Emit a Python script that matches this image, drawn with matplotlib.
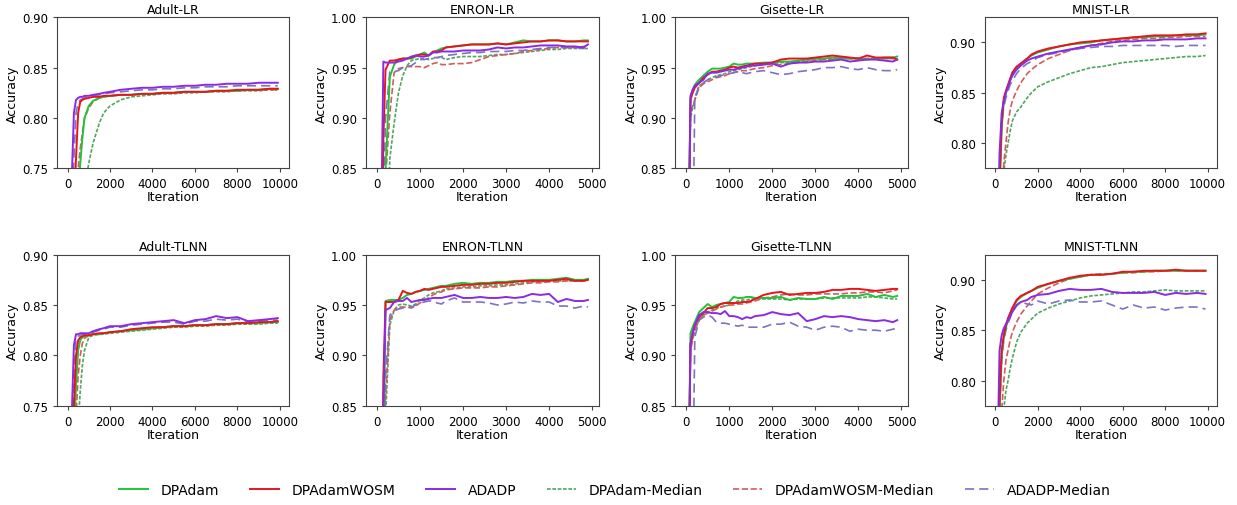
import matplotlib
matplotlib.use("Agg")
import matplotlib.pyplot as plt

# iteration grids (x values)
x_long = [0, 100, 200, 300, 400, 500, 600, 700, 800, 1000, 1200, 1500, 1700, 2000, 2500,
          3000, 3500, 4000, 4500, 5000, 5500, 6000, 6500, 7000, 7500, 8000, 8500, 9000, 9500, 9900]
x_short = [0, 100, 150, 200, 300, 400, 500, 600, 700, 800, 900, 1000, 1100, 1200, 1300, 1400,
           1500, 1600, 1800, 2000, 2200, 2400, 2600, 2800, 3000, 3200, 3400, 3600, 3800, 4000,
           4200, 4400, 4600, 4800, 4900]

methods = ["DPAdam", "DPAdamWOSM", "ADADP", "DPAdam-Median", "DPAdamWOSM-Median", "ADADP-Median"]

# ---- Adult-LR ----
adult_lr_dpadam = [0.55, 0.58, 0.62, 0.66, 0.70, 0.73, 0.755, 0.78, 0.80, 0.812, 0.817, 0.820, 0.821, 0.822, 0.823,
                   0.823, 0.824, 0.824, 0.825, 0.825, 0.826, 0.826, 0.826, 0.827, 0.827, 0.827, 0.828, 0.828, 0.829, 0.829]
adult_lr_wosm = [0.55, 0.60, 0.66, 0.71, 0.76, 0.805, 0.816, 0.818, 0.819, 0.820, 0.821, 0.821, 0.822, 0.822, 0.823,
                 0.823, 0.824, 0.824, 0.825, 0.825, 0.826, 0.826, 0.826, 0.827, 0.827, 0.828, 0.828, 0.828, 0.829, 0.829]
adult_lr_adadp = [0.55, 0.65, 0.74, 0.805, 0.818, 0.820, 0.821, 0.821, 0.822, 0.822, 0.823, 0.824, 0.825, 0.826, 0.828,
                  0.829, 0.830, 0.830, 0.831, 0.831, 0.832, 0.832, 0.833, 0.833, 0.834, 0.834, 0.834, 0.835, 0.835, 0.835]
adult_lr_dpadam_med = [0.55, 0.57, 0.59, 0.61, 0.63, 0.66, 0.69, 0.71, 0.73, 0.755, 0.775, 0.795, 0.805, 0.812, 0.818,
                       0.821, 0.822, 0.823, 0.824, 0.824, 0.825, 0.825, 0.826, 0.826, 0.826, 0.827, 0.827, 0.827, 0.828, 0.828]
adult_lr_wosm_med = [0.55, 0.58, 0.62, 0.66, 0.70, 0.75, 0.77, 0.785, 0.80, 0.81, 0.816, 0.820, 0.821, 0.822, 0.823,
                     0.823, 0.824, 0.824, 0.825, 0.825, 0.826, 0.826, 0.826, 0.827, 0.827, 0.827, 0.828, 0.828, 0.828, 0.828]
adult_lr_adadp_med = [0.55, 0.63, 0.70, 0.76, 0.805, 0.815, 0.818, 0.819, 0.820, 0.821, 0.822, 0.823, 0.824, 0.825, 0.826,
                      0.827, 0.828, 0.828, 0.829, 0.829, 0.830, 0.830, 0.831, 0.831, 0.831, 0.832, 0.832, 0.832, 0.832, 0.832]

# ---- ENRON-LR ----
enron_lr_dpadam = [0.60, 0.65, 0.75, 0.85, 0.941, 0.953, 0.958, 0.959, 0.959, 0.959, 0.961, 0.963, 0.965, 0.962, 0.965,
                   0.967, 0.969, 0.970, 0.971, 0.972, 0.973, 0.973, 0.973, 0.974, 0.973, 0.975, 0.977, 0.976, 0.976, 0.977,
                   0.977, 0.976, 0.976, 0.977, 0.977]
enron_lr_wosm = [0.60, 0.70, 0.88, 0.948, 0.957, 0.957, 0.958, 0.959, 0.959, 0.960, 0.962, 0.963, 0.963, 0.962, 0.966,
                 0.966, 0.967, 0.970, 0.971, 0.972, 0.973, 0.973, 0.973, 0.974, 0.973, 0.974, 0.975, 0.976, 0.976, 0.977,
                 0.977, 0.976, 0.976, 0.976, 0.976]
enron_lr_adadp = [0.60, 0.80, 0.956, 0.955, 0.955, 0.955, 0.956, 0.957, 0.959, 0.961, 0.962, 0.961, 0.961, 0.962, 0.965,
                  0.965, 0.966, 0.966, 0.966, 0.967, 0.967, 0.967, 0.968, 0.970, 0.969, 0.970, 0.970, 0.971, 0.972, 0.972,
                  0.972, 0.971, 0.971, 0.970, 0.973]
enron_lr_dpadam_med = [0.60, 0.62, 0.66, 0.72, 0.86, 0.895, 0.925, 0.942, 0.952, 0.957, 0.958, 0.959, 0.959, 0.958, 0.959,
                       0.960, 0.960, 0.958, 0.960, 0.961, 0.961, 0.961, 0.962, 0.963, 0.963, 0.964, 0.965, 0.966, 0.967, 0.968,
                       0.968, 0.969, 0.969, 0.969, 0.969]
enron_lr_wosm_med = [0.60, 0.65, 0.72, 0.84, 0.905, 0.945, 0.949, 0.950, 0.951, 0.951, 0.951, 0.951, 0.950, 0.952, 0.954,
                     0.955, 0.953, 0.953, 0.954, 0.954, 0.955, 0.958, 0.961, 0.962, 0.963, 0.964, 0.966, 0.967, 0.968, 0.969,
                     0.970, 0.970, 0.970, 0.971, 0.971]
enron_lr_adadp_med = [0.60, 0.70, 0.80, 0.90, 0.946, 0.946, 0.947, 0.950, 0.951, 0.952, 0.955, 0.958, 0.958, 0.959, 0.960,
                      0.960, 0.961, 0.962, 0.963, 0.964, 0.965, 0.965, 0.966, 0.966, 0.966, 0.967, 0.967, 0.968, 0.969, 0.970,
                      0.970, 0.970, 0.970, 0.969, 0.970]

# ---- Gisette-LR ----
gisette_lr_dpadam = [0.60, 0.920, 0.928, 0.933, 0.938, 0.942, 0.946, 0.949, 0.949, 0.949, 0.950, 0.951, 0.954, 0.953, 0.953,
                     0.954, 0.954, 0.954, 0.955, 0.955, 0.956, 0.956, 0.957, 0.958, 0.959, 0.959, 0.960, 0.960, 0.959, 0.959,
                     0.958, 0.959, 0.960, 0.960, 0.961]
gisette_lr_wosm = [0.60, 0.918, 0.925, 0.930, 0.935, 0.940, 0.943, 0.946, 0.946, 0.947, 0.948, 0.950, 0.951, 0.950, 0.951,
                   0.952, 0.953, 0.954, 0.954, 0.955, 0.958, 0.959, 0.959, 0.959, 0.960, 0.961, 0.962, 0.961, 0.960, 0.959,
                   0.962, 0.960, 0.960, 0.960, 0.958]
gisette_lr_adadp = [0.60, 0.922, 0.928, 0.932, 0.935, 0.938, 0.944, 0.945, 0.945, 0.946, 0.947, 0.948, 0.948, 0.949, 0.950,
                    0.951, 0.952, 0.952, 0.953, 0.954, 0.951, 0.954, 0.955, 0.955, 0.956, 0.956, 0.957, 0.958, 0.956, 0.957,
                    0.958, 0.958, 0.957, 0.956, 0.958]
gisette_lr_dpadam_med = [0.60, 0.900, 0.910, 0.918, 0.932, 0.935, 0.938, 0.940, 0.942, 0.943, 0.944, 0.946, 0.947, 0.948, 0.949,
                         0.950, 0.951, 0.952, 0.953, 0.954, 0.955, 0.955, 0.956, 0.957, 0.958, 0.958, 0.959, 0.959, 0.959, 0.959,
                         0.959, 0.959, 0.959, 0.959, 0.959]
gisette_lr_wosm_med = [0.60, 0.905, 0.912, 0.918, 0.930, 0.934, 0.936, 0.938, 0.940, 0.941, 0.942, 0.944, 0.945, 0.946, 0.947,
                       0.947, 0.948, 0.949, 0.950, 0.952, 0.953, 0.954, 0.955, 0.956, 0.957, 0.958, 0.958, 0.959, 0.959, 0.959,
                       0.959, 0.959, 0.959, 0.959, 0.959]
gisette_lr_adadp_med = [0.50, 0.60, 0.75, 0.920, 0.932, 0.935, 0.938, 0.940, 0.941, 0.942, 0.943, 0.944, 0.945, 0.946, 0.945,
                        0.944, 0.945, 0.946, 0.947, 0.945, 0.943, 0.944, 0.946, 0.947, 0.948, 0.950, 0.950, 0.951, 0.949, 0.948,
                        0.950, 0.948, 0.947, 0.947, 0.948]

# ---- MNIST-LR ----
mnist_lr_dpadam = [0.60, 0.67, 0.75, 0.815, 0.842, 0.850, 0.857, 0.863, 0.869, 0.875, 0.879, 0.884, 0.887, 0.890, 0.893,
                   0.896, 0.898, 0.899, 0.900, 0.902, 0.903, 0.904, 0.905, 0.905, 0.906, 0.906, 0.907, 0.907, 0.907, 0.908]
mnist_lr_wosm = [0.60, 0.68, 0.76, 0.82, 0.845, 0.852, 0.858, 0.864, 0.870, 0.876, 0.879, 0.884, 0.888, 0.891, 0.894,
                 0.896, 0.898, 0.900, 0.901, 0.902, 0.903, 0.904, 0.905, 0.906, 0.907, 0.907, 0.907, 0.908, 0.908, 0.909]
mnist_lr_adadp = [0.60, 0.70, 0.79, 0.83, 0.842, 0.850, 0.856, 0.862, 0.867, 0.873, 0.877, 0.882, 0.884, 0.886, 0.889,
                  0.891, 0.893, 0.895, 0.897, 0.898, 0.900, 0.901, 0.901, 0.902, 0.902, 0.903, 0.903, 0.903, 0.904, 0.904]
mnist_lr_dpadam_med = [0.60, 0.64, 0.68, 0.74, 0.772, 0.788, 0.800, 0.812, 0.822, 0.831, 0.836, 0.845, 0.850, 0.856, 0.861,
                       0.865, 0.869, 0.872, 0.875, 0.876, 0.878, 0.880, 0.881, 0.882, 0.883, 0.884, 0.885, 0.886, 0.886, 0.887]
mnist_lr_wosm_med = [0.60, 0.64, 0.69, 0.74, 0.78, 0.80, 0.82, 0.833, 0.842, 0.852, 0.860, 0.869, 0.873, 0.878, 0.884,
                     0.888, 0.892, 0.895, 0.897, 0.899, 0.901, 0.902, 0.903, 0.904, 0.904, 0.905, 0.905, 0.906, 0.906, 0.906]
mnist_lr_adadp_med = [0.60, 0.68, 0.76, 0.82, 0.836, 0.845, 0.852, 0.858, 0.862, 0.869, 0.874, 0.879, 0.881, 0.885, 0.888,
                      0.890, 0.892, 0.894, 0.895, 0.896, 0.896, 0.897, 0.897, 0.897, 0.897, 0.897, 0.896, 0.897, 0.897, 0.897]

# ---- Adult-TLNN ----
adult_tlnn_dpadam = [0.55, 0.59, 0.65, 0.72, 0.77, 0.805, 0.815, 0.818, 0.819, 0.820, 0.821, 0.821, 0.822, 0.823, 0.824,
                     0.825, 0.826, 0.827, 0.828, 0.829, 0.829, 0.830, 0.830, 0.831, 0.831, 0.832, 0.832, 0.832, 0.833, 0.833]
adult_tlnn_wosm = [0.55, 0.60, 0.68, 0.75, 0.80, 0.815, 0.818, 0.819, 0.820, 0.820, 0.821, 0.822, 0.822, 0.823, 0.824,
                   0.826, 0.827, 0.828, 0.828, 0.829, 0.829, 0.830, 0.830, 0.831, 0.831, 0.832, 0.832, 0.833, 0.833, 0.834]
adult_tlnn_adadp = [0.55, 0.65, 0.74, 0.81, 0.821, 0.821, 0.822, 0.822, 0.822, 0.822, 0.824, 0.826, 0.827, 0.829, 0.829,
                    0.831, 0.832, 0.833, 0.834, 0.835, 0.832, 0.835, 0.836, 0.839, 0.837, 0.838, 0.834, 0.835, 0.836, 0.837]
adult_tlnn_dpadam_med = [0.55, 0.57, 0.60, 0.64, 0.69, 0.73, 0.765, 0.79, 0.805, 0.818, 0.820, 0.821, 0.821, 0.822, 0.823,
                         0.824, 0.825, 0.826, 0.827, 0.828, 0.828, 0.829, 0.829, 0.830, 0.830, 0.831, 0.831, 0.831, 0.832, 0.832]
adult_tlnn_wosm_med = [0.55, 0.58, 0.63, 0.69, 0.74, 0.78, 0.80, 0.812, 0.817, 0.820, 0.821, 0.822, 0.822, 0.823, 0.824,
                       0.825, 0.826, 0.827, 0.828, 0.829, 0.829, 0.830, 0.830, 0.831, 0.831, 0.832, 0.832, 0.833, 0.833, 0.833]
adult_tlnn_adadp_med = [0.55, 0.62, 0.70, 0.78, 0.815, 0.819, 0.820, 0.821, 0.821, 0.822, 0.823, 0.825, 0.826, 0.828, 0.828,
                        0.830, 0.831, 0.832, 0.833, 0.833, 0.831, 0.834, 0.834, 0.836, 0.835, 0.836, 0.833, 0.834, 0.835, 0.835]

# ---- ENRON-TLNN ----
enron_tlnn_dpadam = [0.60, 0.68, 0.80, 0.954, 0.955, 0.955, 0.955, 0.957, 0.960, 0.961, 0.963, 0.964, 0.965, 0.966, 0.967,
                     0.968, 0.969, 0.969, 0.971, 0.972, 0.971, 0.972, 0.972, 0.973, 0.973, 0.974, 0.974, 0.975, 0.975, 0.975,
                     0.976, 0.977, 0.975, 0.975, 0.976]
enron_tlnn_wosm = [0.60, 0.70, 0.88, 0.953, 0.953, 0.953, 0.955, 0.964, 0.962, 0.961, 0.963, 0.964, 0.966, 0.965, 0.966,
                   0.967, 0.968, 0.968, 0.969, 0.970, 0.970, 0.971, 0.971, 0.972, 0.972, 0.973, 0.974, 0.974, 0.974, 0.974,
                   0.975, 0.976, 0.974, 0.974, 0.975]
enron_tlnn_adadp = [0.60, 0.70, 0.85, 0.945, 0.947, 0.953, 0.954, 0.954, 0.957, 0.953, 0.954, 0.955, 0.955, 0.956, 0.957,
                    0.957, 0.957, 0.958, 0.960, 0.957, 0.957, 0.958, 0.957, 0.957, 0.958, 0.957, 0.958, 0.961, 0.960, 0.961,
                    0.953, 0.956, 0.954, 0.954, 0.955]
enron_tlnn_dpadam_med = [0.60, 0.62, 0.68, 0.84, 0.930, 0.945, 0.950, 0.951, 0.950, 0.949, 0.951, 0.955, 0.957, 0.960, 0.962,
                         0.963, 0.964, 0.966, 0.967, 0.968, 0.968, 0.969, 0.969, 0.970, 0.970, 0.971, 0.972, 0.973, 0.973, 0.974,
                         0.974, 0.974, 0.974, 0.975, 0.975]
enron_tlnn_wosm_med = [0.60, 0.62, 0.70, 0.86, 0.935, 0.945, 0.948, 0.948, 0.948, 0.947, 0.949, 0.952, 0.955, 0.957, 0.960,
                       0.962, 0.963, 0.965, 0.966, 0.967, 0.967, 0.967, 0.968, 0.968, 0.969, 0.970, 0.971, 0.972, 0.972, 0.973,
                       0.973, 0.974, 0.974, 0.974, 0.974]
enron_tlnn_adadp_med = [0.60, 0.65, 0.75, 0.88, 0.940, 0.944, 0.946, 0.947, 0.948, 0.948, 0.950, 0.952, 0.953, 0.954, 0.954,
                        0.952, 0.951, 0.954, 0.957, 0.953, 0.953, 0.953, 0.952, 0.950, 0.951, 0.953, 0.952, 0.954, 0.953, 0.953,
                        0.949, 0.949, 0.947, 0.949, 0.948]

# ---- Gisette-TLNN ----
gisette_tlnn_dpadam = [0.60, 0.922, 0.928, 0.933, 0.943, 0.947, 0.951, 0.948, 0.950, 0.951, 0.952, 0.953, 0.958, 0.957, 0.957,
                       0.958, 0.958, 0.957, 0.957, 0.957, 0.958, 0.955, 0.957, 0.956, 0.956, 0.958, 0.956, 0.959, 0.959, 0.959,
                       0.961, 0.958, 0.960, 0.958, 0.959]
gisette_tlnn_wosm = [0.60, 0.910, 0.922, 0.930, 0.938, 0.942, 0.947, 0.947, 0.948, 0.951, 0.952, 0.952, 0.952, 0.952, 0.953,
                     0.953, 0.954, 0.956, 0.960, 0.962, 0.963, 0.960, 0.961, 0.962, 0.962, 0.963, 0.965, 0.965, 0.966, 0.966,
                     0.965, 0.964, 0.965, 0.966, 0.966]
gisette_tlnn_adadp = [0.60, 0.912, 0.922, 0.930, 0.940, 0.943, 0.943, 0.942, 0.942, 0.941, 0.944, 0.939, 0.939, 0.938, 0.936,
                      0.938, 0.937, 0.939, 0.940, 0.943, 0.941, 0.940, 0.942, 0.934, 0.936, 0.939, 0.938, 0.939, 0.938, 0.936,
                      0.935, 0.934, 0.935, 0.933, 0.935]
gisette_tlnn_dpadam_med = [0.60, 0.910, 0.918, 0.925, 0.935, 0.940, 0.943, 0.945, 0.947, 0.948, 0.949, 0.950, 0.952, 0.954, 0.955,
                           0.955, 0.956, 0.956, 0.956, 0.956, 0.956, 0.955, 0.956, 0.956, 0.956, 0.957, 0.957, 0.957, 0.957, 0.957,
                           0.958, 0.958, 0.957, 0.956, 0.956]
gisette_tlnn_wosm_med = [0.60, 0.905, 0.915, 0.925, 0.935, 0.940, 0.942, 0.944, 0.946, 0.948, 0.949, 0.950, 0.950, 0.951, 0.951,
                         0.952, 0.953, 0.954, 0.957, 0.958, 0.960, 0.961, 0.960, 0.960, 0.961, 0.961, 0.961, 0.961, 0.962, 0.962,
                         0.963, 0.963, 0.962, 0.964, 0.965]
gisette_tlnn_adadp_med = [0.50, 0.60, 0.75, 0.918, 0.935, 0.938, 0.940, 0.938, 0.933, 0.932, 0.932, 0.931, 0.930, 0.929, 0.930,
                          0.928, 0.928, 0.928, 0.928, 0.931, 0.931, 0.933, 0.929, 0.928, 0.925, 0.928, 0.929, 0.928, 0.924, 0.926,
                          0.925, 0.925, 0.924, 0.926, 0.927]

# ---- MNIST-TLNN ----
mnist_tlnn_dpadam = [0.60, 0.69, 0.77, 0.825, 0.843, 0.853, 0.860, 0.866, 0.871, 0.879, 0.883, 0.887, 0.889, 0.892, 0.896,
                     0.899, 0.901, 0.903, 0.905, 0.905, 0.906, 0.907, 0.908, 0.908, 0.909, 0.909, 0.909, 0.909, 0.909, 0.909]
mnist_tlnn_wosm = [0.60, 0.70, 0.78, 0.83, 0.845, 0.855, 0.862, 0.867, 0.872, 0.880, 0.884, 0.887, 0.889, 0.893, 0.896,
                   0.899, 0.902, 0.904, 0.905, 0.905, 0.906, 0.908, 0.908, 0.909, 0.909, 0.909, 0.910, 0.909, 0.909, 0.909]
mnist_tlnn_adadp = [0.60, 0.72, 0.83, 0.845, 0.852, 0.856, 0.860, 0.864, 0.868, 0.875, 0.878, 0.880, 0.883, 0.885, 0.886,
                    0.889, 0.891, 0.890, 0.890, 0.891, 0.888, 0.887, 0.887, 0.887, 0.888, 0.885, 0.887, 0.886, 0.887, 0.886]
mnist_tlnn_dpadam_med = [0.60, 0.64, 0.68, 0.74, 0.772, 0.790, 0.800, 0.812, 0.822, 0.838, 0.848, 0.857, 0.861, 0.867, 0.872,
                         0.876, 0.879, 0.882, 0.884, 0.885, 0.886, 0.887, 0.888, 0.888, 0.889, 0.890, 0.889, 0.889, 0.889, 0.889]
mnist_tlnn_wosm_med = [0.60, 0.65, 0.72, 0.77, 0.80, 0.82, 0.830, 0.840, 0.848, 0.858, 0.866, 0.874, 0.879, 0.886, 0.892,
                       0.897, 0.901, 0.903, 0.905, 0.906, 0.906, 0.907, 0.907, 0.908, 0.908, 0.909, 0.909, 0.909, 0.909, 0.909]
mnist_tlnn_adadp_med = [0.60, 0.68, 0.77, 0.82, 0.840, 0.850, 0.857, 0.862, 0.868, 0.874, 0.878, 0.876, 0.875, 0.879, 0.876,
                        0.879, 0.880, 0.878, 0.878, 0.879, 0.875, 0.871, 0.875, 0.872, 0.873, 0.870, 0.872, 0.873, 0.873, 0.871]

# panel table: title, x grid, ylim, yticks, xticks, series
panels = [
    ("Adult-LR", x_long, (0.75, 0.90), [0.75, 0.80, 0.85, 0.90], "long",
     [adult_lr_dpadam, adult_lr_wosm, adult_lr_adadp, adult_lr_dpadam_med, adult_lr_wosm_med, adult_lr_adadp_med]),
    ("ENRON-LR", x_short, (0.85, 1.00), [0.85, 0.90, 0.95, 1.00], "short",
     [enron_lr_dpadam, enron_lr_wosm, enron_lr_adadp, enron_lr_dpadam_med, enron_lr_wosm_med, enron_lr_adadp_med]),
    ("Gisette-LR", x_short, (0.85, 1.00), [0.85, 0.90, 0.95, 1.00], "short",
     [gisette_lr_dpadam, gisette_lr_wosm, gisette_lr_adadp, gisette_lr_dpadam_med, gisette_lr_wosm_med, gisette_lr_adadp_med]),
    ("MNIST-LR", x_long, (0.775, 0.925), [0.80, 0.85, 0.90], "long",
     [mnist_lr_dpadam, mnist_lr_wosm, mnist_lr_adadp, mnist_lr_dpadam_med, mnist_lr_wosm_med, mnist_lr_adadp_med]),
    ("Adult-TLNN", x_long, (0.75, 0.90), [0.75, 0.80, 0.85, 0.90], "long",
     [adult_tlnn_dpadam, adult_tlnn_wosm, adult_tlnn_adadp, adult_tlnn_dpadam_med, adult_tlnn_wosm_med, adult_tlnn_adadp_med]),
    ("ENRON-TLNN", x_short, (0.85, 1.00), [0.85, 0.90, 0.95, 1.00], "short",
     [enron_tlnn_dpadam, enron_tlnn_wosm, enron_tlnn_adadp, enron_tlnn_dpadam_med, enron_tlnn_wosm_med, enron_tlnn_adadp_med]),
    ("Gisette-TLNN", x_short, (0.85, 1.00), [0.85, 0.90, 0.95, 1.00], "short",
     [gisette_tlnn_dpadam, gisette_tlnn_wosm, gisette_tlnn_adadp, gisette_tlnn_dpadam_med, gisette_tlnn_wosm_med, gisette_tlnn_adadp_med]),
    ("MNIST-TLNN", x_long, (0.775, 0.925), [0.80, 0.85, 0.90], "long",
     [mnist_tlnn_dpadam, mnist_tlnn_wosm, mnist_tlnn_adadp, mnist_tlnn_dpadam_med, mnist_tlnn_wosm_med, mnist_tlnn_adadp_med]),
]

# styles per method (colour, linestyle, width)
styles = [
    ("#22c23a", "-", 1.4),
    ("#e8141c", "-", 1.4),
    ("#8a2be2", "-", 1.4),
    ("#4fa65c", (0, (2.2, 1.0)), 1.2),
    ("#d65a5a", (0, (3.7, 1.6)), 1.2),
    ("#7d72c4", (0, (5.5, 3.0)), 1.2),
]

plt.rcdefaults()
plt.rc("font", size=8.5)
fig, axes = plt.subplots(2, 4, figsize=(12.37, 5.06), dpi=100)
plt.subplots_adjust(left=0.046, right=0.984, top=0.964, bottom=0.196, wspace=0.33, hspace=0.57)

for ax, (title, xs, ylim, yticks, kind, series) in zip(axes.flat, panels):
    # draw medians first so solid lines sit on top
    for i in [3, 4, 5, 0, 1, 2]:
        col, ls, lw = styles[i]
        ax.plot(xs, series[i], color=col, linestyle=ls, linewidth=lw, label=methods[i])
    ax.set_ylim(*ylim)
    ax.set_yticks(yticks)
    if kind == "long":
        ax.set_xlim(-500, 10450)
        ax.set_xticks([0, 2000, 4000, 6000, 8000, 10000])
    else:
        ax.set_xlim(-250, 5150)
        ax.set_xticks([0, 1000, 2000, 3000, 4000, 5000])
    ax.set_title(title, fontsize=9, pad=3)
    ax.set_xlabel("Iteration", fontsize=9, labelpad=0)
    ax.set_ylabel("Accuracy", fontsize=9, labelpad=2)
    ax.tick_params(labelsize=8.5, length=3, color="#444444")
    for sp in ax.spines.values():
        sp.set_color("#444444")

handles, labels = axes[0, 0].get_legend_handles_labels()
order = [labels.index(m) for m in methods]
fig.legend([handles[k] for k in order], methods, loc="center", bbox_to_anchor=(0.497, 0.03),
           ncol=6, frameon=False, fontsize=10, handlelength=2.1, handletextpad=0.9, columnspacing=2.2)

plt.savefig("out.png")
